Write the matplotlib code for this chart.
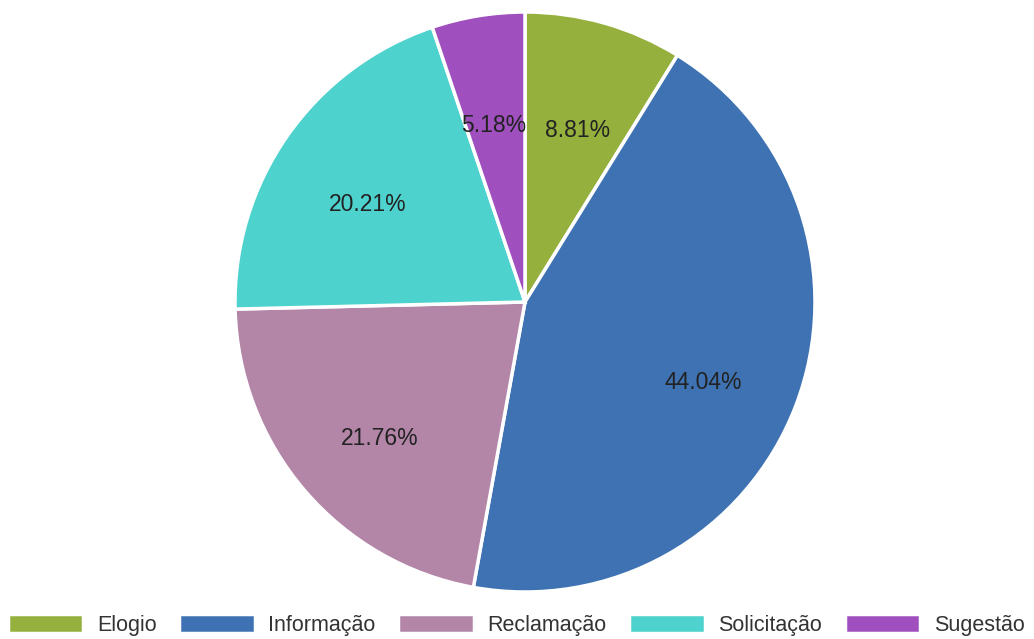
import matplotlib.pyplot as plt

categorias = ['Elogio', 'Informação', 'Reclamação', 'Solicitação', 'Sugestão']
percentuais = [8.81, 44.04, 21.76, 20.21, 5.18]
cores = ['#95b03d', '#3e72b2', '#b386a8', '#4ed2cd', '#a050be']

W, H = 1034, 639
fig = plt.figure(figsize=(W / 100, H / 100), dpi=100)
cx, cy, r = 525, 302, 290
ax = fig.add_axes([(cx - r) / W, (H - cy - r) / H, 2 * r / W, 2 * r / H])

fatias, textos, pcts = ax.pie(
    percentuais, colors=cores, startangle=90, counterclock=False,
    radius=1, autopct='%.2f%%', pctdistance=0.66,
    wedgeprops=dict(edgecolor='white', linewidth=2.5),
    textprops=dict(fontsize=16.5, family='Liberation Sans', color='#222222'))
# rótulos um pouco abaixo do centro, como no original
for t in pcts:
    x, y = t.get_position()
    t.set_position((x, y - 0.042))
ax.set_xlim(-1, 1)
ax.set_ylim(-1, 1)
ax.axis('off')

leg = fig.legend(fatias, categorias, loc='lower left', bbox_to_anchor=(8 / W, 3 / H),
                 ncol=5, frameon=False, borderpad=0, borderaxespad=0,
                 handlelength=3.5, handleheight=1.0, handletextpad=0.64,
                 columnspacing=1.05, prop=dict(family='Liberation Sans', size=15.5))
for t in leg.get_texts():
    t.set_color('#333333')

fig.savefig('out.png', dpi=100)
